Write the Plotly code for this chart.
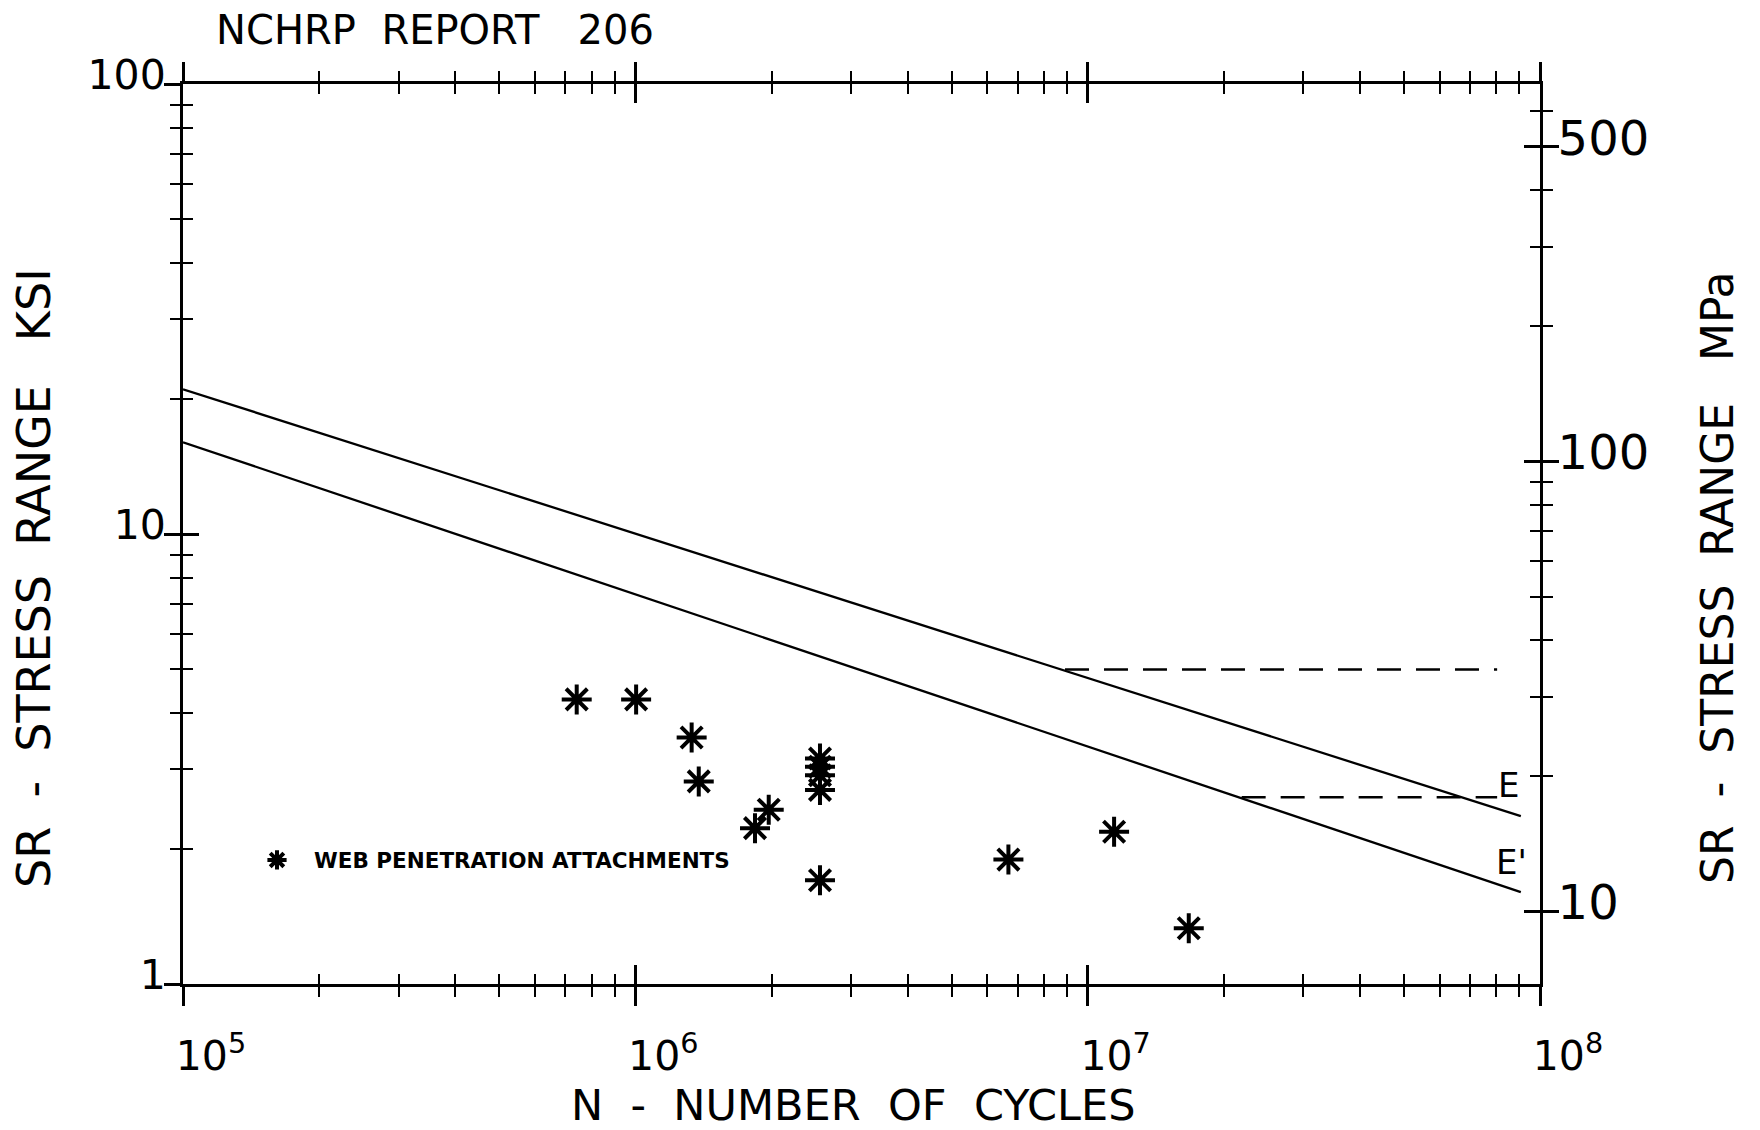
import math
import plotly.graph_objects as go

# ---------------- data ----------------
test_cycles = [7.42e5, 1.004e6, 1.332e6, 1.381e6, 1.839e6, 1.972e6,
               2.56e6, 2.56e6, 2.56e6, 2.56e6, 2.56e6,
               6.68e6, 1.144e7, 1.673e7]
test_stress_ksi = [4.29, 4.29, 3.53, 2.82, 2.22, 2.44,
                   3.17, 3.04, 2.91, 2.70, 1.70,
                   1.89, 2.18, 1.33]
series_name = "WEB PENETRATION ATTACHMENTS"

cat_e_cycles = [1e5, 9.07e7]
cat_e_stress = [20.97, 2.36]
cat_ep_cycles = [1e5, 9.07e7]
cat_ep_stress = [15.99, 1.60]
cafl_e_cycles = [8.91e6, 8.04e7]
cafl_e_stress = [5.0, 5.0]
cafl_ep_cycles = [2.19e7, 8.04e7]
cafl_ep_stress = [2.6, 2.6]

curve_labels = ["E", "E'"]
curve_label_cycles = [8.5e7, 8.67e7]
curve_label_stress = [2.77, 1.866]

x_major_vals = [1e5, 1e6, 1e7, 1e8]
x_major_text = ["10<sup>5</sup>", "10<sup>6</sup>", "10<sup>7</sup>", "10<sup>8</sup>"]
x_minor_vals = [m * 10 ** e for e in (5, 6, 7) for m in range(2, 10)]
y_major_vals = [1, 10, 100]
y_major_text = ["1", "10", "100"]
y_minor_vals = [m * 10 ** e for e in (0, 1) for m in range(2, 10)]
mpa_major_vals = [10, 100, 500]
mpa_major_text = ["10", "100", "500"]
mpa_minor_vals = [20, 30, 40, 50, 60, 70, 80, 90, 200, 300, 400, 600]
KSI_TO_MPA = 6.895

FONT = "DejaVu Sans"
BLACK = "black"

fig = go.Figure()

# S-N curves
for xs, ys in ((cat_e_cycles, cat_e_stress), (cat_ep_cycles, cat_ep_stress)):
    fig.add_trace(go.Scatter(x=xs, y=ys, mode="lines", showlegend=False,
                             line=dict(color=BLACK, width=2.3), hoverinfo="skip"))
for xs, ys in ((cafl_e_cycles, cafl_e_stress), (cafl_ep_cycles, cafl_ep_stress)):
    fig.add_trace(go.Scatter(x=xs, y=ys, mode="lines", showlegend=False,
                             line=dict(color=BLACK, width=2.6, dash="24px,15px"),
                             hoverinfo="skip"))

# test data
fig.add_trace(go.Scatter(x=test_cycles, y=test_stress_ksi, mode="markers",
                         name=series_name,
                         marker=dict(symbol="asterisk-open", size=25, color=BLACK,
                                     line=dict(color=BLACK, width=4))))

# dummy traces so the overlay axes exist
fig.add_trace(go.Scatter(x=[None], y=[None], xaxis="x2", yaxis="y", showlegend=False, hoverinfo="skip"))
fig.add_trace(go.Scatter(x=[None], y=[None], xaxis="x", yaxis="y2", showlegend=False, hoverinfo="skip"))
fig.add_trace(go.Scatter(x=[None], y=[None], xaxis="x", yaxis="y3", showlegend=False, hoverinfo="skip"))
fig.add_trace(go.Scatter(x=[None], y=[None], xaxis="x", yaxis="y4", showlegend=False, hoverinfo="skip"))

xr = [math.log10(1e5), math.log10(1e8)]
yr = [math.log10(1), math.log10(100)]
mr = [math.log10(1 * KSI_TO_MPA), math.log10(100 * KSI_TO_MPA)]

common = dict(showgrid=False, zeroline=False, type="log", autorange=False,
              tickcolor=BLACK, linecolor=BLACK)

fig.update_layout(
    width=1760, height=1130,
    margin=dict(l=175, r=228, t=76, b=154),
    paper_bgcolor="white", plot_bgcolor="white",
    font=dict(family=FONT, color=BLACK),
    title=dict(text="NCHRP\u00a0 REPORT\u00a0\u00a0 206", x=427 / 1760, xanchor="center",
               y=1 - 22 / 1130, yanchor="middle",
               font=dict(family=FONT, size=40, color=BLACK)),
    xaxis=dict(**common, range=xr, showline=True, linewidth=3, mirror="ticks",
               tickmode="array", tickvals=x_major_vals, ticktext=x_major_text,
               ticks="outside", ticklen=19, tickwidth=2.5,
               ticklabelstandoff=15, ticklabelshift=28,
               tickfont=dict(family=FONT, size=41),
               minor=dict(tickmode="array", tickvals=x_minor_vals, ticks="outside",
                          ticklen=10, tickwidth=2.2, tickcolor=BLACK),
               anchor="y"),
    xaxis2=dict(**common, range=xr, overlaying="x", anchor="y", showline=False,
                mirror="ticks", tickmode="array", tickvals=x_major_vals,
                showticklabels=False, ticks="inside", ticklen=19, tickwidth=2.5,
                minor=dict(tickmode="array", tickvals=x_minor_vals, ticks="inside",
                           ticklen=10, tickwidth=2.2, tickcolor=BLACK)),
    yaxis=dict(**common, range=yr, showline=True, linewidth=3, side="left",
               tickmode="array", tickvals=y_major_vals, ticktext=y_major_text,
               ticks="outside", ticklen=16, tickwidth=2.5,
               ticklabelstandoff=-10, ticklabelshift=-9,
               tickfont=dict(family=FONT, size=41),
               minor=dict(tickmode="array", tickvals=y_minor_vals, ticks="outside",
                          ticklen=10, tickwidth=2.2, tickcolor=BLACK),
               anchor="x"),
    yaxis3=dict(**common, range=yr, overlaying="y", side="left", anchor="x",
                showline=False, tickmode="array", tickvals=y_major_vals,
                showticklabels=False, ticks="inside", ticklen=16, tickwidth=2.5,
                minor=dict(tickmode="array", tickvals=y_minor_vals, ticks="inside",
                           ticklen=10, tickwidth=2.2, tickcolor=BLACK)),
    yaxis2=dict(**common, range=mr, overlaying="y", side="right", anchor="x",
                showline=True, linewidth=3,
                tickmode="array", tickvals=mpa_major_vals, ticktext=mpa_major_text,
                ticks="outside", ticklen=16, tickwidth=2.5,
                ticklabelstandoff=-11, ticklabelshift=-9,
                tickfont=dict(family=FONT, size=48),
                minor=dict(tickmode="array", tickvals=mpa_minor_vals, ticks="outside",
                           ticklen=10, tickwidth=2.2, tickcolor=BLACK)),
    yaxis4=dict(**common, range=mr, overlaying="y", side="right", anchor="x",
                showline=False, tickmode="array", tickvals=mpa_major_vals,
                showticklabels=False, ticks="inside", ticklen=16, tickwidth=2.5,
                minor=dict(tickmode="array", tickvals=mpa_minor_vals, ticks="inside",
                           ticklen=10, tickwidth=2.2, tickcolor=BLACK)),
    legend=dict(x=(240 - 183) / 1357, y=(984 - 860) / 900, xanchor="left", yanchor="middle",
                itemwidth=64, bgcolor="rgba(0,0,0,0)",
                font=dict(family=FONT, size=21.5, color=BLACK, weight="bold")),
    showlegend=True,
)

annotations = [
    dict(text="N\u00a0 -\u00a0 NUMBER\u00a0 OF\u00a0 CYCLES", xref="paper", yref="paper",
         x=(853 - 183) / 1357, y=(984 - 1105) / 900, xanchor="center", yanchor="middle",
         showarrow=False, font=dict(family=FONT, size=43, color=BLACK)),
    dict(text="SR\u00a0 -\u00a0 STRESS\u00a0 RANGE\u00a0\u00a0 KSI", xref="paper", yref="paper",
         x=(34 - 183) / 1357, y=(984 - 578) / 900, xanchor="center", yanchor="middle",
         textangle=-90, showarrow=False, font=dict(family=FONT, size=46, color=BLACK)),
    dict(text="SR\u00a0 -\u00a0 STRESS\u00a0 RANGE\u00a0\u00a0 MPa", xref="paper", yref="paper",
         x=(1717 - 183) / 1357, y=(984 - 578) / 900, xanchor="center", yanchor="middle",
         textangle=-90, showarrow=False, font=dict(family=FONT, size=44, color=BLACK)),
]
for lbl, cx, cy in zip(curve_labels, curve_label_cycles, curve_label_stress):
    annotations.append(dict(text=lbl, xref="x", yref="y", x=math.log10(cx), y=math.log10(cy),
                            xanchor="center", yanchor="middle", showarrow=False,
                            font=dict(family=FONT, size=34, color=BLACK)))
fig.update_layout(annotations=annotations)

fig.write_html("out.html")
